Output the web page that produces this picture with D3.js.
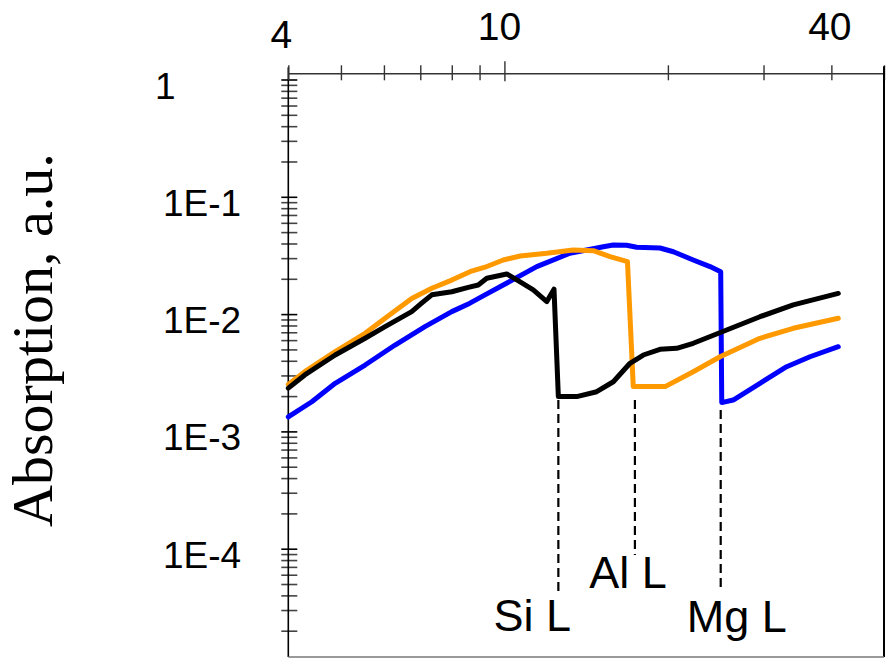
<!DOCTYPE html>
<html>
<head>
<meta charset="utf-8">
<script src="https://cdn.jsdelivr.net/npm/d3@7"></script>
<style>
  body { margin: 0; background: #fff; }
  text { font-family: "Liberation Sans", Arial, sans-serif; fill: #000; }
</style>
</head>
<body>
<div id="chart"></div>
<script>
// wavelength (nm) vs absorption (a.u.)
const siData = [[4.00,2.34e-3],[4.29,3.03e-3],[4.88,4.48e-3],[5.54,6.22e-3],[6.03,7.81e-3],[6.75,1.05e-2],
  [7.04,1.24e-2],[7.35,1.46e-2],[8.00,1.55e-2],[8.58,1.69e-2],[8.95,1.77e-2],[9.28,2.02e-2],[10.10,2.20e-2],
  [10.69,1.88e-2],[11.30,1.61e-2],[11.97,1.28e-2],[12.34,1.63e-2],[12.57,1.98e-3],[13.59,1.98e-3],[14.79,2.18e-3],
  [15.87,2.65e-3],[17.03,3.81e-3],[18.02,4.48e-3],[19.34,5.01e-3],[20.76,5.11e-3],[22.27,5.64e-3],[25.66,7.32e-3],
  [29.55,9.50e-3],[34.03,1.20e-2],[41.19,1.50e-2]];

const alData = [[4.00,2.51e-3],[4.29,3.23e-3],[4.88,4.78e-3],[5.54,6.86e-3],[6.03,9.21e-3],[6.75,1.36e-2],
  [7.35,1.66e-2],[8.00,1.95e-2],[8.64,2.30e-2],[9.21,2.51e-2],[9.95,2.89e-2],[10.69,3.13e-2],[11.97,3.30e-2],
  [13.39,3.52e-2],[14.58,3.47e-2],[15.65,3.09e-2],[16.85,2.80e-2],[17.27,2.41e-3],[19.76,2.41e-3],[22.27,3.23e-3],
  [24.95,4.33e-3],[29.55,6.22e-3],[34.03,7.57e-3],[41.19,9.21e-3]];

const mgData = [[4.00,1.33e-3],[4.42,1.79e-3],[4.88,2.57e-3],[5.54,3.68e-3],[6.29,5.45e-3],[7.14,7.81e-3],
  [8.00,1.05e-2],[8.64,1.24e-2],[9.21,1.46e-2],[9.95,1.77e-2],[11.47,2.54e-2],[13.20,3.30e-2],[15.21,3.75e-2],
  [15.87,3.88e-2],[16.79,3.86e-2],[17.52,3.71e-2],[19.34,3.66e-2],[20.47,3.40e-2],[22.27,2.89e-2],[23.91,2.54e-2],
  [25.02,2.30e-2],[25.13,1.76e-3],[26.38,1.85e-3],[29.55,2.57e-3],[33.09,3.56e-3],[36.53,4.33e-3],[41.19,5.27e-3]];

// absorption edges: wavelength and vertical extent of the dashed marker
const edgeNames = ["Si L", "Al L", "Mg L"];
const edgeWavelengths = [12.57, 17.39, 25.02];
const edgeTops = [1.85e-3, 1.85e-3, 1.52e-3];
const edgeBottoms = [4.3e-5, 8.84e-5, 4.44e-5];

const xTickValues = [4, 5, 6, 7, 8, 9, 10, 20, 30, 40, 50];
const xTickLabels = [4, 10, 40];
const yDecades = [1, 1e-1, 1e-2, 1e-3, 1e-4];
const yTickLabels = ["1", "1E-1", "1E-2", "1E-3", "1E-4"];

class AbsorptionChart {
    constructor(parentElement) {
        this.parentElement = parentElement;
        this.initVis();
    }

    initVis() {
        let vis = this;
        vis.width = 886;
        vis.height = 658;
        vis.left = 288.3;
        vis.right = 884;
        vis.top = 73.3;
        vis.bottom = 657;

        vis.svg = d3.select("#" + vis.parentElement).append("svg")
            .attr("width", vis.width)
            .attr("height", vis.height);

        vis.x = d3.scaleLog().domain([4, 50]).range([vis.left, vis.right]);
        vis.y = d3.scaleLog().domain([1e-4, 1]).range([548.7, 79.5]);

        vis.drawAxes();
        vis.drawEdges();
        vis.drawSeries();
    }

    drawAxes() {
        let vis = this;

        // y axis: decades plus 2..9 minor ticks that fall inside the frame
        let yTicks = [];
        [1e-5, 1e-4, 1e-3, 1e-2, 1e-1, 1].forEach(d => {
            for (let m = 1; m <= 9; m++) yTicks.push(d * m);
        });
        yTicks = yTicks.filter(v => vis.y(v) >= vis.top + 2 && vis.y(v) <= vis.bottom - 2);

        const yAxis = vis.svg.append("g")
            .attr("transform", `translate(${vis.left},0)`)
            .call(d3.axisLeft(vis.y).tickValues(yTicks).tickSize(0).tickFormat(""));
        yAxis.select(".domain").remove();
        yAxis.selectAll(".tick line")
            .attr("x1", -7).attr("x2", 9)
            .attr("stroke", d => yDecades.some(v => Math.abs(v - d) / v < 1e-6) ? "#000" : "#444")
            .attr("stroke-width", 1.6);

        vis.svg.append("line")
            .attr("x1", vis.left).attr("x2", vis.left)
            .attr("y1", vis.top - 6).attr("y2", vis.bottom)
            .attr("stroke", "#000").attr("stroke-width", 1.6);

        vis.svg.selectAll(".ylab").data(yDecades).enter().append("text")
            .attr("class", "ylab")
            .attr("x", (d, i) => i === 0 ? 155 : 163)
            .attr("y", d => vis.y(d) + 19)
            .style("font-size", "37px")
            .text((d, i) => yTickLabels[i]);

        // x axis along the top
        const xAxis = vis.svg.append("g")
            .attr("transform", `translate(0,${vis.top})`)
            .call(d3.axisTop(vis.x).tickValues(xTickValues).tickSize(0).tickFormat(""));
        xAxis.select(".domain")
            .attr("stroke", "#333").attr("stroke-width", 1.6);
        xAxis.selectAll(".tick line")
            .attr("y1", d => d === 10 ? -12 : -8)
            .attr("y2", d => d === 10 ? 8 : 7)
            .attr("stroke", "#333")
            .attr("stroke-width", 1.4);

        vis.svg.selectAll(".xlab").data(xTickLabels).enter().append("text")
            .attr("class", "xlab")
            .attr("x", d => vis.x(d) + (d === 4 ? -7 : d === 10 ? -5 : -1.5))
            .attr("y", d => d === 4 ? 48.3 : 40)
            .attr("text-anchor", "middle")
            .style("font-size", "39px")
            .text(d => d);

        // remaining frame edges
        vis.svg.append("line")
            .attr("x1", vis.right).attr("x2", vis.right)
            .attr("y1", vis.top - 7).attr("y2", vis.bottom)
            .attr("stroke", "#000").attr("stroke-width", 2);
        vis.svg.append("line")
            .attr("x1", vis.left).attr("x2", vis.right)
            .attr("y1", vis.bottom).attr("y2", vis.bottom)
            .attr("stroke", "#777").attr("stroke-width", 1.5);

        // axis title
        vis.svg.append("text")
            .attr("transform", "translate(52,340) rotate(-90)")
            .attr("text-anchor", "middle")
            .style("font-family", "'Liberation Serif', 'Times New Roman', serif")
            .style("font-size", "58px")
            .text("Absorption, a.u.");
    }

    drawEdges() {
        let vis = this;
        // label placement relative to each dashed marker
        const labelDx = [-26, -7, 16];
        const labelY = [631, 588, 631.5];

        edgeNames.forEach((name, i) => {
            const xp = vis.x(edgeWavelengths[i]);
            vis.svg.append("line")
                .attr("x1", xp).attr("x2", xp)
                .attr("y1", vis.y(edgeTops[i]))
                .attr("y2", vis.y(edgeBottoms[i]))
                .attr("stroke", "#000")
                .attr("stroke-width", 2.2)
                .attr("stroke-dasharray", "9,5");
            vis.svg.append("text")
                .attr("x", xp + labelDx[i])
                .attr("y", labelY[i])
                .attr("text-anchor", "middle")
                .style("font-size", "45px")
                .text(name);
        });
    }

    drawSeries() {
        let vis = this;
        const line = d3.line()
            .x(d => vis.x(d[0]))
            .y(d => vis.y(d[1]));

        const series = [
            { data: mgData, color: "#0000ff" },
            { data: alData, color: "#ff9900" },
            { data: siData, color: "#000000" }
        ];

        series.forEach(s => {
            vis.svg.append("path")
                .datum(s.data)
                .attr("d", line)
                .attr("fill", "none")
                .attr("stroke", s.color)
                .attr("stroke-width", 5)
                .attr("stroke-linejoin", "round")
                .attr("stroke-linecap", "round");
        });
    }
}

new AbsorptionChart("chart");
</script>
</body>
</html>
